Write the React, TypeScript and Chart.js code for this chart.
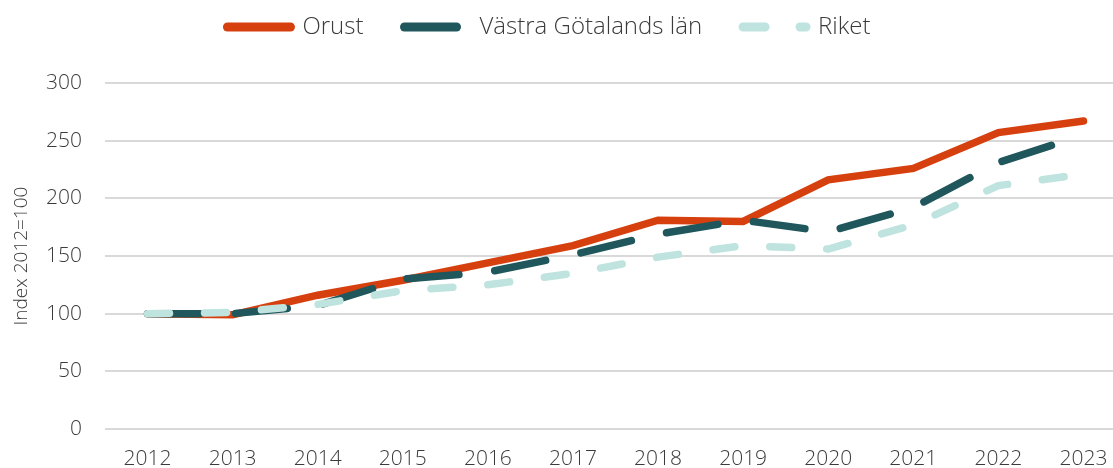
import { useEffect, useRef } from 'react';
import { Chart, registerables } from 'chart.js';

Chart.register(...registerables);

const years = ['2012', '2013', '2014', '2015', '2016', '2017', '2018', '2019', '2020', '2021', '2022', '2023'];
const orust = [100, 99, 116, 129, 144, 159, 181, 180, 216, 226, 257, 267];
const vastraGotaland = [100, 100, 107, 130, 136, 151, 169, 181, 171, 192, 231, 255];
const riket = [100, 101, 108, 120, 125, 135, 149, 159, 156, 177, 211, 221];
const seriesNames = ['Orust', 'Västra Götalands län', 'Riket'];
const yAxisTitle = 'Index 2012=100';
const yMin = 0;
const yMax = 300;
const yStep = 50;

const FONT = '"Open Sans"';
const TEXT = '#3b3b3b';

export default function App() {
  const ref = useRef<HTMLCanvasElement>(null);

  useEffect(() => {
    if (!ref.current) return;

    const legendFit = {
      id: 'legendFit',
      beforeLayout(chart: any) {
        const lg = chart.legend;
        if (lg && !lg._patched) {
          const orig = lg.fit.bind(lg);
          lg.fit = function () {
            orig();
            this.height = 109;
            if (this.lineWidths && this.lineWidths.length) this.lineWidths[0] += 28;
          };
          lg._patched = true;
        }
      },
    };

    const chart = new Chart(ref.current, {
      type: 'line',
      data: {
        labels: years,
        datasets: [
          {
            label: seriesNames[0],
            data: orust,
            borderColor: '#D6400E',
            backgroundColor: '#D6400E',
            borderWidth: 7.5,
            borderCapStyle: 'round',
            borderJoinStyle: 'miter',
            pointRadius: 0,
            tension: 0,
            order: 3,
          },
          {
            label: seriesNames[1],
            data: vastraGotaland,
            borderColor: '#1F575C',
            backgroundColor: '#1F575C',
            borderWidth: 7.5,
            borderDash: [52, 36],
            borderCapStyle: 'round',
            borderJoinStyle: 'round',
            pointRadius: 0,
            tension: 0,
            order: 2,
          },
          {
            label: seriesNames[2],
            data: riket,
            borderColor: '#BFE3DE',
            backgroundColor: '#BFE3DE',
            borderWidth: 7.5,
            borderDash: [22, 35],
            borderCapStyle: 'round',
            borderJoinStyle: 'round',
            pointRadius: 0,
            tension: 0,
            order: 1,
          },
        ],
      },
      options: {
        animation: false,
        responsive: true,
        maintainAspectRatio: false,
        layout: { padding: { top: -26, left: 0, right: 0, bottom: 0 } },
        plugins: {
          tooltip: { enabled: false },
          legend: {
            position: 'top',
            labels: {
              usePointStyle: true,
              pointStyle: 'line',
              pointStyleWidth: 63,
              padding: 41,
              color: TEXT,
              font: { family: FONT, size: 24, weight: '300' },
              generateLabels: (c: any) => {
                const items = (Chart.defaults.plugins.legend.labels as any).generateLabels(c);
                items.sort((a: any, b: any) => a.datasetIndex - b.datasetIndex);
                items.forEach((it: any) => {
                  const ds = c.data.datasets[it.datasetIndex];
                  it.lineWidth = 9;
                  it.lineCap = 'round';
                  it.strokeStyle = ds.borderColor;
                  it.fillStyle = ds.borderColor;
                  it.lineDash = ds.borderDash || [];
                  it.lineDashOffset = 0;
                });
                return items;
              },
            },
          },
        },
        scales: {
          x: {
            type: 'category',
            offset: true,
            grid: { display: false, drawTicks: false },
            border: { display: false },
            ticks: {
              color: TEXT,
              padding: 17,
              maxRotation: 0,
              autoSkip: false,
              font: { family: FONT, size: 21, weight: '300' },
            },
            afterFit: (s: any) => {
              s.height = 39;
            },
          },
          y: {
            min: yMin,
            max: yMax,
            grid: { color: '#d9d9d9', lineWidth: 2, drawTicks: false },
            border: { display: false },
            ticks: {
              stepSize: yStep,
              color: TEXT,
              padding: 23,
              font: { family: FONT, size: 21, weight: '300' },
            },
            title: {
              display: true,
              text: yAxisTitle,
              color: TEXT,
              padding: { top: 10, bottom: 0 },
              font: { family: FONT, size: 19, weight: '300' },
            },
            afterFit: (s: any) => {
              s.width = 105;
            },
          },
        },
      },
      plugins: [legendFit],
    });

    return () => chart.destroy();
  }, []);

  return (
    <div style={{ position: 'fixed', left: 0, top: 0, width: 1113, height: 468, overflow: 'hidden', background: '#fff' }}>
      <div style={{ position: 'relative', width: 1126, height: 468 }}>
        <canvas ref={ref} />
      </div>
    </div>
  );
}
